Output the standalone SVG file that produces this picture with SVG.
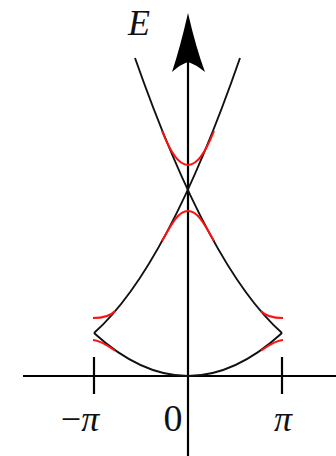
<svg xmlns="http://www.w3.org/2000/svg" width="336" height="456" viewBox="0 0 336 456">
<style>
.ax{stroke:#000;stroke-width:2.2;fill:none}
.band{stroke:#111;stroke-width:1.9;fill:none}
.gap{stroke:#ff1010;stroke-width:2;fill:none}
.lbl{font-family:"Liberation Serif","DejaVu Serif",serif;fill:#111}
</style>
<rect width="336" height="456" fill="#fff"/>
<g id="axes">
<line class="ax" x1="23" y1="376" x2="336" y2="376"/>
<line class="ax" x1="188" y1="62" x2="188" y2="456"/>
<line class="ax" x1="94" y1="357" x2="94" y2="394"/>
<line class="ax" x1="282" y1="357" x2="282" y2="394"/>
<path d="M188,13 Q196,48 205,72 Q195,64 188,62 Q181,64 172,72 Q180,48 188,13 Z" fill="#000"/>
</g>
<g id="bands">
<path class="band" d="M94,333 Q188,419 282,333"/>
<path class="band" d="M282,333 Q209,268.4 135,58"/>
<path class="band" d="M94,333 Q167,268.4 240,58"/>
</g>
<g id="gaps">
<path class="gap" d="M162,131 C170,151 178,165 188,165 C198,165 206,151 214,131"/>
<path class="gap" d="M162,241 C171,225 178,211 188,211 C198,211 205,225 214,241"/>
<path class="gap" d="M93,318 C100,318 110,316.7 115,311"/>
<path class="gap" d="M93,340 C100,340 110,347.1 115,350.6"/>
<path class="gap" d="M283,318 C276,318 266,316.7 261,311"/>
<path class="gap" d="M283,340 C276,340 266,347.1 261,350.6"/>
</g>
<g id="labels">
<text class="lbl" x="128" y="35" font-size="36" font-style="italic">E</text>
<text class="lbl" x="80" y="431" font-size="36" text-anchor="middle">−<tspan font-style="italic">π</tspan></text>
<text class="lbl" x="173" y="431" font-size="38" text-anchor="middle">0</text>
<text class="lbl" x="283" y="431" font-size="36" text-anchor="middle" font-style="italic">π</text>
</g>
</svg>
